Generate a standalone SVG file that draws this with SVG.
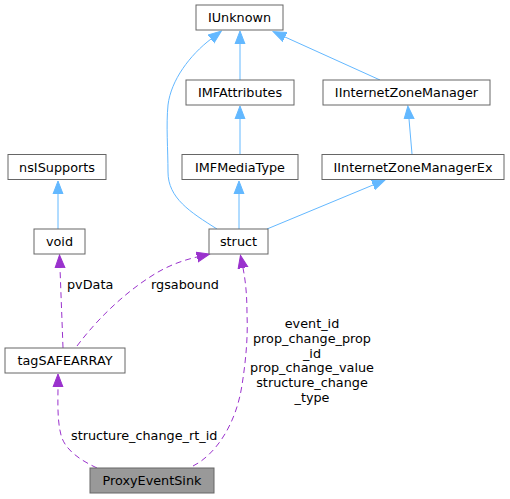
<svg xmlns="http://www.w3.org/2000/svg" width="510" height="499" viewBox="0 0 510 499">
<style>
.n rect{fill:#fff;stroke:#666;stroke-width:1}
.n.cur rect{fill:#999}
text{font-family:"DejaVu Sans","Liberation Sans",sans-serif;font-size:12.8px;fill:#000}
.n text{text-anchor:middle}
.inh{fill:none;stroke:#63b8ff;stroke-width:1;marker-end:url(#ab)}
.use{fill:none;stroke:#9a32cd;stroke-width:1;stroke-dasharray:6,4;marker-end:url(#ap)}
.lbl{text-anchor:start}
.lblm{text-anchor:middle}
</style>
<defs>
<marker id="ab" markerUnits="userSpaceOnUse" markerWidth="14" markerHeight="12" refX="0" refY="5" orient="auto" viewBox="0 0 14 10"><path d="M0,0 L13,5 L0,10 z" fill="#63b8ff" stroke="#63b8ff"/></marker>
<marker id="ap" markerUnits="userSpaceOnUse" markerWidth="14" markerHeight="12" refX="0" refY="5" orient="auto" viewBox="0 0 14 10"><path d="M0,0 L13,5 L0,10 z" fill="#9a32cd" stroke="#9a32cd"/></marker>
</defs>
<g id="edges">
<path class="inh" d="M240,80 L240,44"/>
<path class="inh" d="M380,80 L285,37"/>
<path class="inh" d="M240,154 L240,119"/>
<path class="inh" d="M412,154 L409,119"/>
<path class="inh" d="M239,229 L239,194"/>
<path class="inh" d="M267,229 L373,185"/>
<path class="inh" d="M217,229 C190,212 168,198 168,172 C168,150 166,125 168,105 C171,80 190,55 211,39"/>
<path class="inh" d="M58,229 L58,194"/>
<path class="use" d="M63,348 C62,320 61,295 60,268"/>
<path class="use" d="M77,346 C98,318 125,293 150,277 C165,267 180,261 197,257"/>
<path class="use" d="M193,466 C215,455 236,425 242,385 C246,360 248,335 247,315 C247,298 246,283 243,268"/>
<path class="use" d="M97,468 C80,460 65,450 61,435 C57,420 58,400 58,387"/>
<text class="lbl" x="67" y="289">pvData</text>
<text class="lbl" x="151" y="289">rgsabound</text>
<text class="lblm" x="312" y="328">event_id</text>
<text class="lblm" x="312" y="343">prop_change_prop</text>
<text class="lblm" x="312" y="357.5">_id</text>
<text class="lblm" x="312" y="372">prop_change_value</text>
<text class="lblm" x="312" y="387">structure_change</text>
<text class="lblm" x="312" y="401.5">_type</text>
<text class="lbl" x="71" y="440">structure_change_rt_id</text>
</g>
<g id="IUnknown" class="n"><rect x="196" y="5" width="87" height="25"/><text x="239.5" y="22">IUnknown</text></g>
<g id="IMFAttributes" class="n"><rect x="186" y="80" width="108" height="25"/><text x="240" y="97">IMFAttributes</text></g>
<g id="IInternetZoneManager" class="n"><rect x="323" y="80" width="167" height="25"/><text x="406.5" y="97">IInternetZoneManager</text></g>
<g id="nsISupports" class="n"><rect x="8" y="154.5" width="98" height="25"/><text x="57" y="171.5">nsISupports</text></g>
<g id="IMFMediaType" class="n"><rect x="182" y="154.5" width="116" height="25"/><text x="240" y="171.5">IMFMediaType</text></g>
<g id="IInternetZoneManagerEx" class="n"><rect x="322" y="154.5" width="182" height="25"/><text x="413" y="171.5">IInternetZoneManagerEx</text></g>
<g id="void" class="n"><rect x="34" y="229" width="51" height="25"/><text x="59.5" y="246">void</text></g>
<g id="struct" class="n"><rect x="209" y="229" width="59" height="25"/><text x="238.5" y="246">struct</text></g>
<g id="tagSAFEARRAY" class="n"><rect x="5" y="348" width="120" height="25"/><text x="65" y="365">tagSAFEARRAY</text></g>
<g id="ProxyEventSink" class="n cur"><rect x="90" y="468" width="124" height="25"/><text x="152" y="485">ProxyEventSink</text></g>
</svg>
